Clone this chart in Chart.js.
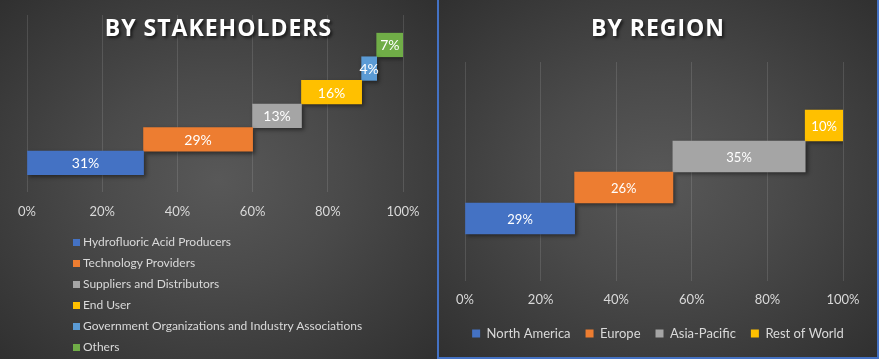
<!DOCTYPE html>
<html>
<head>
<meta charset="utf-8">
<script src="https://cdn.jsdelivr.net/npm/chart.js@4.4.1/dist/chart.umd.min.js"></script>
<style>
  body { margin: 0; width: 879px; height: 359px; overflow: hidden; background: #2e2e2e; font-family: Lato, sans-serif; }
  .panel { position: absolute; top: 0; height: 359px; box-sizing: border-box;
    background: radial-gradient(ellipse at 50% 50%, #585858 0%, #4a4a4a 40%, #303030 100%); }
  #left { left: 0; width: 437px; }
  #right { left: 437px; width: 442px; border: 2px solid #4472c4; border-top: none; }
  .wrap { position: absolute; left: 0; top: 0; width: 100%; height: 100%; }
  .title { position: absolute; left: 0; right: 0; top: 11px; text-align: center; z-index: 2; pointer-events: none;
    font: 700 23px "Open Sans", sans-serif; letter-spacing: 1px; color: #fff; text-shadow: 2px 2px 3px rgba(0,0,0,0.6); }
  #legendLeft { position: absolute; left: 73px; top: 231px; margin: 0; padding: 0; list-style: none; z-index: 2;
    font: 12px Lato, sans-serif; color: #d9d9d9; }
  #legendLeft li { height: 21px; line-height: 21px; white-space: nowrap; }
  #legendLeft span { display: inline-block; width: 7px; height: 7px; margin-right: 3px; }
</style>
</head>
<body>
<div class="panel" id="left">
  <div class="title">BY STAKEHOLDERS</div>
  <div class="wrap"><canvas id="stakeChart"></canvas></div>
  <ul id="legendLeft"></ul>
</div>
<div class="panel" id="right">
  <div class="title">BY REGION</div>
  <div class="wrap"><canvas id="regionChart"></canvas></div>
</div>
<script>
const stakeholders = ['Hydrofluoric Acid Producers', 'Technology Providers', 'Suppliers and Distributors',
  'End User', 'Government Organizations and Industry Associations', 'Others'];
const stakeShares = [31, 29, 13, 16, 4, 7];
const stakeColors = ['#4472c4', '#ed7d31', '#a5a5a5', '#ffc000', '#5b9bd5', '#70ad47'];

const regions = ['North America', 'Europe', 'Asia-Pacific', 'Rest of World'];
const regionShares = [29, 26, 35, 10];
const regionColors = ['#4472c4', '#ed7d31', '#a5a5a5', '#ffc000'];

const xTicks = [0, 20, 40, 60, 80, 100];

// each category is its own floating bar, starting where the previous one ended
function waterfall(labels, values, colors) {
  let start = 0;
  return labels.map((label, i) => {
    const end = start + values[i];
    const ds = {
      label,
      data: [{ x: [start, end], y: i + 1 }],
      backgroundColor: colors[i],
      barPercentage: 1,
      categoryPercentage: 1,
      grouped: false
    };
    start = end;
    return ds;
  });
}

// value labels in the middle of each bar, plus Excel-like bar shadow
const barLabels = {
  id: 'barLabels',
  beforeDatasetsDraw(chart) {
    const ctx = chart.ctx;
    ctx.save();
    ctx.shadowColor = 'rgba(0,0,0,0.45)';
    ctx.shadowBlur = 4;
    ctx.shadowOffsetX = 2;
    ctx.shadowOffsetY = 2;
  },
  afterDatasetsDraw(chart, args, opts) {
    const ctx = chart.ctx;
    ctx.restore();
    ctx.save();
    ctx.font = `${opts.size}px Lato, sans-serif`;
    ctx.fillStyle = '#ffffff';
    ctx.textAlign = 'center';
    ctx.textBaseline = 'middle';
    chart.data.datasets.forEach((ds, i) => {
      const meta = chart.getDatasetMeta(i);
      meta.data.forEach((el, j) => {
        const { x, y, base } = el.getProps(['x', 'y', 'base'], true);
        const v = ds.data[j].x;
        ctx.fillText(`${v[1] - v[0]}%`, (x + base) / 2, y + 1);
      });
    });
    ctx.restore();
  }
};

function xScale(padding, height) {
  return {
    type: 'linear',
    min: 0,
    max: 100,
    afterBuildTicks: s => { s.ticks = xTicks.map(v => ({ value: v })); },
    ticks: { color: '#d9d9d9', font: { family: 'Lato', size: 13 }, padding, callback: v => v + '%' },
    grid: { color: 'rgba(255,255,255,0.12)', drawTicks: false },
    border: { display: false },
    afterFit: s => { s.height = height; }
  };
}

// hidden row axis: one unit per row, no offset
function rowScale(count, min, max, position, width) {
  return {
    type: 'linear',
    position,
    min,
    max,
    offset: false,
    afterBuildTicks: s => { s.ticks = Array.from({ length: count }, (_, i) => ({ value: i + 1 })); },
    ticks: { display: false },
    grid: { display: false },
    border: { display: false },
    afterFit: s => { s.width = width; }
  };
}

Chart.defaults.animation = false;

new Chart(document.getElementById('stakeChart'), {
  type: 'bar',
  data: { datasets: waterfall(stakeholders, stakeShares, stakeColors) },
  options: {
    indexAxis: 'y',
    responsive: true,
    maintainAspectRatio: false,
    layout: { padding: { left: 0, right: 0, top: 15, bottom: 127 } },
    scales: {
      x: xScale(12, 40),
      y: rowScale(stakeholders.length, -0.23, 7.27, 'left', 27),
      y2: { position: 'right', display: true, ticks: { display: false }, grid: { display: false },
        border: { display: false }, afterFit: s => { s.width = 34; } }
    },
    plugins: {
      legend: { display: false },
      tooltip: { enabled: false },
      barLabels: { size: 14 }
    }
  },
  plugins: [barLabels]
});

new Chart(document.getElementById('regionChart'), {
  type: 'bar',
  data: { datasets: waterfall(regions, regionShares, regionColors) },
  options: {
    indexAxis: 'y',
    responsive: true,
    maintainAspectRatio: false,
    layout: { padding: { left: 0, right: 0, top: 62, bottom: 7 } },
    scales: {
      x: xScale(11, 31),
      y: rowScale(regions.length, -1.016, 6.05, 'left', 26),
      y2: { position: 'right', display: true, ticks: { display: false }, grid: { display: false },
        border: { display: false }, afterFit: s => { s.width = 34; } }
    },
    plugins: {
      legend: {
        position: 'bottom',
        labels: { color: '#d9d9d9', font: { family: 'Lato', size: 13 }, boxWidth: 8, boxHeight: 8, padding: 15 }
      },
      tooltip: { enabled: false },
      barLabels: { size: 13 }
    }
  },
  plugins: [barLabels]
});

const legendLeft = document.getElementById('legendLeft');
stakeholders.forEach((name, i) => {
  const li = document.createElement('li');
  li.innerHTML = `<span style="background:${stakeColors[i]}"></span>${name}`;
  legendLeft.appendChild(li);
});
</script>
</body>
</html>
